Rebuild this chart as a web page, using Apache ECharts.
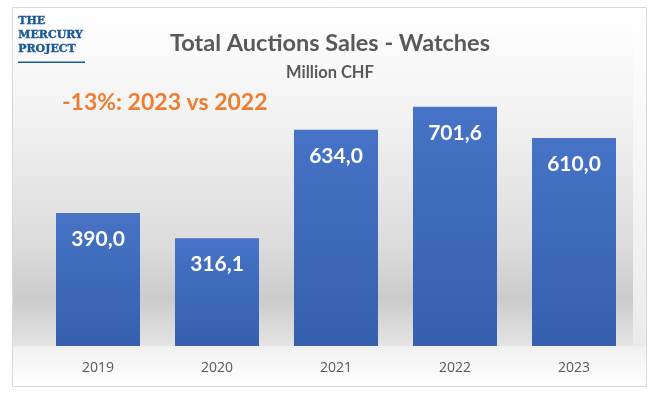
<!DOCTYPE html>
<html>
<head>
<meta charset="utf-8">
<script src="https://cdn.jsdelivr.net/npm/echarts@6/dist/echarts.min.js"></script>
<style>html,body{margin:0;padding:0;background:#fff;}#c{width:660px;height:395px;}</style>
</head>
<body>
<div id="c"></div>
<script>
const categories = ['2019', '2020', '2021', '2022', '2023'];
const salesValues = [390.0, 316.1, 634.0, 701.6, 610.0];
const chartTitle = 'Total Auctions Sales - Watches';
const chartSubtitle = 'Million CHF';
const annotationText = '-13%: 2023 vs 2022';
const logoLines = ['THE', 'MERCURY', 'PROJECT'];

const chart = echarts.init(document.getElementById('c'), null, {renderer: 'canvas'});
const fmt = v => v.toFixed(1).replace('.', ',');

const logoGraphics = logoLines.map((t, i) => ({
  type: 'text', left: 18, top: 15.5 + i * 14, z: 10,
  style: {text: t, fill: '#1B5A96', fontFamily: 'DejaVu Serif', fontWeight: 'bold', fontSize: 11,
          stroke: '#1B5A96', lineWidth: 0.4}
}));

chart.setOption({
  animation: false,
  backgroundColor: '#ffffff',
  title: [
    {text: chartTitle, left: 'center', top: 24,
     textStyle: {fontFamily: 'Lato', fontWeight: 'bold', fontSize: 23.5, color: '#595959', lineHeight: 28}},
    {text: chartSubtitle, left: 'center', top: 58,
     textStyle: {fontFamily: 'Lato', fontWeight: 'bold', fontSize: 16.5, color: '#595959', lineHeight: 19}}
  ],
  graphic: [
    {type: 'rect', z: -10, shape: {x: 12.5, y: 7.5, width: 634, height: 379},
     style: {fill: '#ffffff', stroke: '#d9d9d9', lineWidth: 1}},
    {type: 'rect', z: -9, shape: {x: 13, y: 8, width: 620, height: 338},
     style: {fill: new echarts.graphic.LinearGradient(0, 0, 0, 1, [
       {offset: 0, color: '#ffffff'},
       {offset: 0.3, color: '#f3f3f3'},
       {offset: 0.7, color: '#dcdcdc'},
       {offset: 0.86, color: '#cbcbcb'},
       {offset: 1, color: '#e4e4e4'}])}},
    {type: 'rect', z: -9, shape: {x: 633, y: 8, width: 13, height: 338},
     style: {fill: new echarts.graphic.LinearGradient(0, 0, 0, 1, [
       {offset: 0, color: '#ffffff'},
       {offset: 1, color: '#ebebeb'}])}},
    {type: 'rect', z: -9, shape: {x: 13, y: 346, width: 633, height: 40},
     style: {fill: new echarts.graphic.LinearGradient(0, 0, 0, 1, [
       {offset: 0, color: '#f0f0f0'},
       {offset: 1, color: '#ffffff'}])}},
    ...logoGraphics,
    {type: 'rect', z: 10, shape: {x: 18, y: 61.5, width: 67, height: 1.5},
     style: {fill: '#1B5A96'}},
    {type: 'text', left: 62, top: 91, z: 10,
     style: {text: annotationText, fill: '#ED7D31', fontFamily: 'Lato', fontWeight: 'bold', fontSize: 23}}
  ],
  grid: {left: 38.5, right: 26.5, top: 73.2, bottom: 49, containLabel: false},
  xAxis: {
    type: 'category', data: categories,
    axisLine: {show: false}, axisTick: {show: false},
    axisLabel: {margin: 15, fontFamily: 'Open Sans', fontSize: 14, color: '#595959'}
  },
  yAxis: {type: 'value', min: 0, max: 800, show: false, splitLine: {show: false}},
  series: [{
    type: 'bar', data: salesValues, barWidth: '70.6%',
    itemStyle: {color: new echarts.graphic.LinearGradient(0, 0, 0, 1, [
      {offset: 0, color: '#4673c6'},
      {offset: 1, color: '#3660ae'}])},
    label: {show: true, position: 'insideTop', distance: 16,
      formatter: p => fmt(p.value),
      fontFamily: 'Lato', fontWeight: 'bold', fontSize: 21, lineHeight: 21, color: '#ffffff'}
  }]
});
</script>
</body>
</html>
